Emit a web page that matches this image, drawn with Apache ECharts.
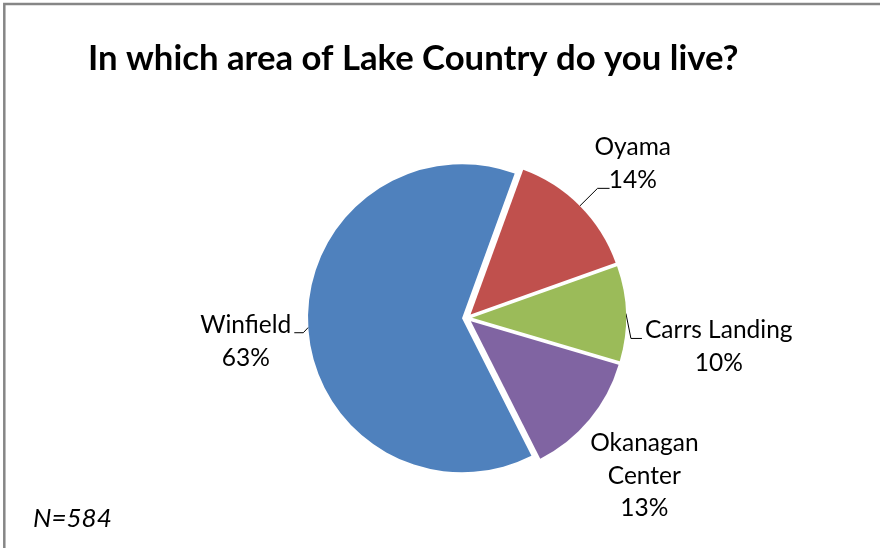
<!DOCTYPE html>
<html>
<head>
<meta charset="utf-8">
<script src="https://cdn.jsdelivr.net/npm/echarts@6/dist/echarts.min.js"></script>
<style>
  html, body { margin: 0; padding: 0; background: #ffffff; overflow: hidden; }
  #chart { width: 880px; height: 548px; }
</style>
</head>
<body>
<div id="chart"></div>
<script>
// Survey answers: share of respondents per area (percent)
const categories = ['Oyama', 'Carrs Landing', 'Okanagan Center', 'Winfield'];
const percents = [14, 10, 13, 63];
const labelRows = [['Oyama'], ['Carrs Landing'], ['Okanagan', 'Center'], ['Winfield']];
const sliceColors = ['#C0504D', '#9BBB59', '#8064A2', '#4F81BD'];
const titleText = 'In which area of Lake Country do you live?';
const sampleNote = 'N=584';

// Leader line and label placement per slice
const leaderLen = [25, 4, 0, 5];
const leaderLen2 = [12, 12, 0, 9];
const leaderShown = [true, true, false, true];
const leaderBend = [0, 25, 0, 5];
const labelShift = [[-18, -25], [0, 33], [-2, 56], [0, 14]];

const FONT = 'Lato';
const LABEL_SIZE = 24.5;
const LABEL_LH = 32.5;

const chart = echarts.init(document.getElementById('chart'), null, { renderer: 'canvas' });

const data = categories.map((name, i) => ({
  name: name,
  value: percents[i],
  selected: true,
  itemStyle: { color: sliceColors[i] },
  label: {
    formatter: labelRows[i].concat([percents[i] + '%']).map(r => '{t|' + r + '}').join('\n')
  },
  labelLine: { show: leaderShown[i], length: leaderLen[i], length2: leaderLen2[i] }
}));

chart.setOption({
  backgroundColor: '#ffffff',
  animation: false,
  title: [
    {
      text: titleText,
      left: 88,
      top: 38,
      padding: 0,
      textStyle: { fontFamily: FONT, fontWeight: 'bold', fontSize: 34.7, color: '#000000', lineHeight: 42 }
    },
    {
      text: sampleNote,
      left: 33,
      top: 504,
      padding: 0,
      textStyle: { fontFamily: FONT, fontStyle: 'italic', fontWeight: 'normal', fontSize: 26, color: '#000000', lineHeight: 30 }
    }
  ],
  graphic: [
    {
      // chart frame: left and top edges
      type: 'polyline',
      silent: true,
      shape: { points: [[4.3, 560], [4.3, 4], [890, 4]] },
      style: { fill: null, stroke: '#868686', lineWidth: 2.5 }
    }
  ],
  series: [
    {
      type: 'pie',
      center: [467, 318],
      radius: 154,
      startAngle: 70,
      clockwise: true,
      selectedMode: 'multiple',
      selectedOffset: 5,
      avoidLabelOverlap: false,
      emphasis: { disabled: true },
      itemStyle: { borderWidth: 0 },
      label: {
        show: true,
        position: 'outside',
        distanceToLabelLine: 3,
        color: '#000000',
        rich: {
          t: { fontFamily: FONT, fontSize: LABEL_SIZE, lineHeight: LABEL_LH, color: '#000000', align: 'center' }
        }
      },
      labelLine: {
        smooth: false,
        lineStyle: { color: '#000000', width: 1 }
      },
      labelLayout: function (params) {
        const i = params.dataIndex;
        const out = { dx: labelShift[i][0], dy: labelShift[i][1] };
        const p = params.labelLinePoints;
        if (p && p.length === 3 && leaderBend[i]) {
          out.labelLinePoints = [
            p[0],
            [p[1][0] + (i === 1 ? 1 : 0), p[1][1] + leaderBend[i]],
            [p[2][0], p[2][1] + leaderBend[i]]
          ];
        }
        return out;
      },
      data: data
    }
  ]
});
</script>
</body>
</html>
